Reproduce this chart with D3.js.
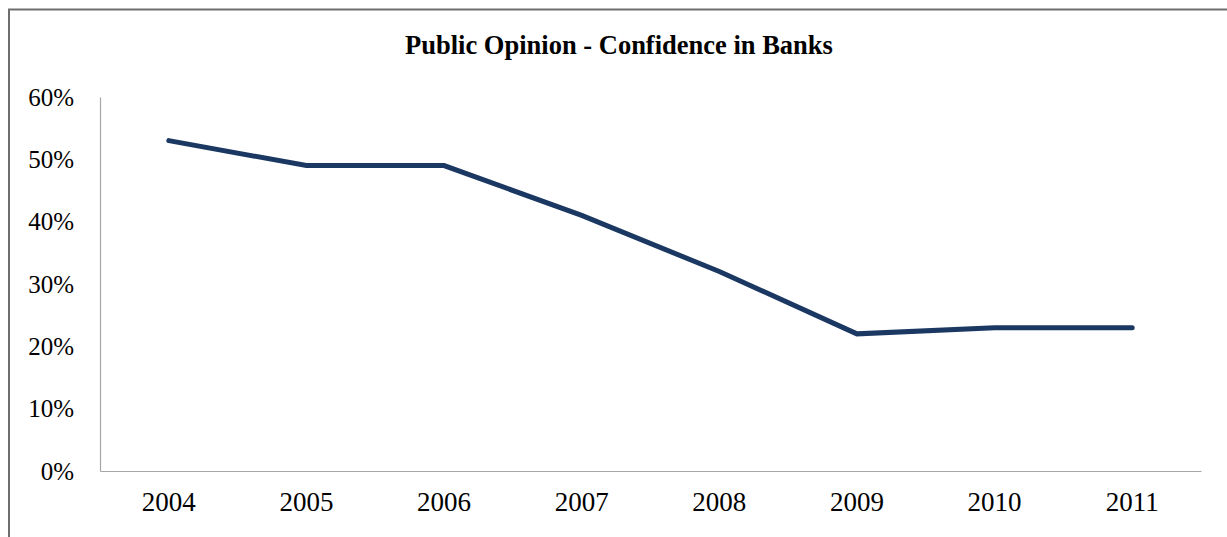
<!DOCTYPE html>
<html>
<head>
<meta charset="utf-8">
<script src="https://cdn.jsdelivr.net/npm/d3@7"></script>
<style>
  body { margin: 0; background: #fff; }
  text { font-family: "Liberation Serif", "Times New Roman", serif; fill: #000; }
</style>
</head>
<body>
<div id="chart"></div>
<script>
// Data
const years = ["2004", "2005", "2006", "2007", "2008", "2009", "2010", "2011"];
const confidence = [0.53, 0.49, 0.49, 0.41, 0.32, 0.22, 0.23, 0.23];
const yTicks = [0, 0.1, 0.2, 0.3, 0.4, 0.5, 0.6];
const chartTitle = "Public Opinion - Confidence in Banks";

function createChart() {
    let width = 1227;
    let height = 537;
    const margin = { top: 97, right: 26, bottom: 66, left: 100 };

    const svg = d3.select('#chart').append("svg")
        .attr("width", width)
        .attr("height", height);

    // outer frame (cut off at right and bottom like the original)
    svg.append("rect")
        .attr("x", 9)
        .attr("y", 9.5)
        .attr("width", width + 10)
        .attr("height", height + 10)
        .attr("fill", "none")
        .attr("stroke", "#6e6e6e")
        .attr("stroke-width", 2);

    const x = d3.scaleBand()
        .domain(years)
        .range([margin.left, width - margin.right]);

    const y = d3.scaleLinear()
        .domain([0, 0.6])
        .range([height - margin.bottom, margin.top]);

    svg.append("text")
        .attr("x", 619)
        .attr("y", 54)
        .attr("text-anchor", "middle")
        .attr("font-weight", "bold")
        .attr("font-size", 26.5)
        .text(chartTitle);

    // y axis: line + labels, no ticks
    const yAxis = svg.append("g")
        .attr("transform", `translate(${margin.left},0)`)
        .call(d3.axisLeft(y).tickValues(yTicks).tickFormat(d3.format(".0%")).tickSize(0).tickPadding(26));
    yAxis.select(".domain").attr("stroke", "#a6a6a6").attr("stroke-width", 1.2);
    yAxis.selectAll("text")
        .attr("font-family", "Liberation Serif, Times New Roman, serif")
        .attr("font-size", 25)
        .attr("dy", "0.33em");

    // x axis
    const xAxis = svg.append("g")
        .attr("transform", `translate(0,${height - margin.bottom})`)
        .call(d3.axisBottom(x).tickSize(0).tickPadding(21));
    xAxis.select(".domain").attr("stroke", "#a6a6a6").attr("stroke-width", 1.2);
    xAxis.selectAll("text")
        .attr("font-family", "Liberation Serif, Times New Roman, serif")
        .attr("font-size", 27)
        .attr("dy", "0.71em");

    const line = d3.line()
        .x((d, i) => x(years[i]) + x.bandwidth() / 2)
        .y(d => y(d));

    svg.append("path")
        .datum(confidence)
        .attr("fill", "none")
        .attr("stroke", "#1b3862")
        .attr("stroke-width", 5)
        .attr("stroke-linejoin", "miter")
        .attr("stroke-linecap", "round")
        .attr("d", line);
}

document.addEventListener('DOMContentLoaded', function (e) {
    createChart();
});
</script>
</body>
</html>
